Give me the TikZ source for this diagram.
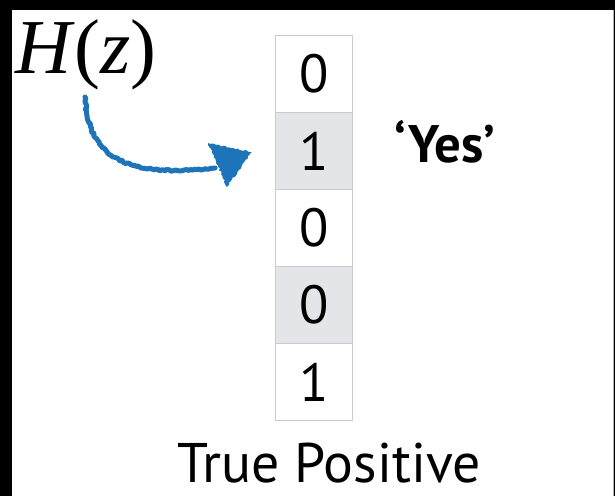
\documentclass[tikz,border=0pt]{standalone}
\usepackage{fontspec}
\setmainfont{PT Sans}
\newfontfamily\tnr{Liberation Serif}
\usetikzlibrary{decorations.pathmorphing}
\definecolor{cellgray}{HTML}{E4E5E8}
\definecolor{cellline}{HTML}{CCCCCC}
\definecolor{arrowblue}{HTML}{1E74B8}
\begin{document}
\begin{tikzpicture}[x=1bp,y=-1bp,
  cellbox/.style={draw=cellline,line width=1bp,minimum width=77bp,minimum height=77bp,inner sep=0pt,anchor=north west,font=\fontsize{54}{54}\selectfont},
  shaded/.style={fill=cellgray},
  plain/.style={fill=white},
  label text/.style={inner sep=0pt,anchor=base},
  rough/.style={draw=arrowblue,line width=5bp,line cap=round,line join=round,decorate,decoration={random steps,segment length=2bp,amplitude=0.9bp}}]
\useasboundingbox (0,0) rectangle (615,496);
\fill[black] (0,0) rectangle (615,496);
\fill[white] (12,10) rectangle (614,496);
\draw[gray!60,line width=1bp] (613.5,10) -- (613.5,496);
\node[cellbox,plain]  (c1) at (275,35)  {0};
\node[cellbox,shaded] (c2) at (275,112) {1};
\node[cellbox,plain]  (c3) at (275,189) {0};
\node[cellbox,shaded] (c4) at (275,266) {0};
\node[cellbox,plain]  (c5) at (275,343) {1};
\node[label text,font=\fontsize{53}{53}\selectfont\bfseries] (yes) at (445,163) {‘Yes’};
\node[label text,text depth=0pt,font=\fontsize{56}{56}\selectfont] (tp) at (329,482) {True Positive};
\node[font=\tnr\fontsize{78}{78}\selectfont,inner sep=0pt] (hz) at (86,55) {\textit{H}(\textit{z})};
\coordinate (tip) at (252,152);
\draw[rough] (85,97) .. controls (88,160) and (130,178) .. (215,168);
\fill[arrowblue,decorate,decoration={random steps,segment length=2bp,amplitude=0.9bp}] (208,143) -- (tip) -- (227,187) -- cycle;
\end{tikzpicture}
\end{document}
